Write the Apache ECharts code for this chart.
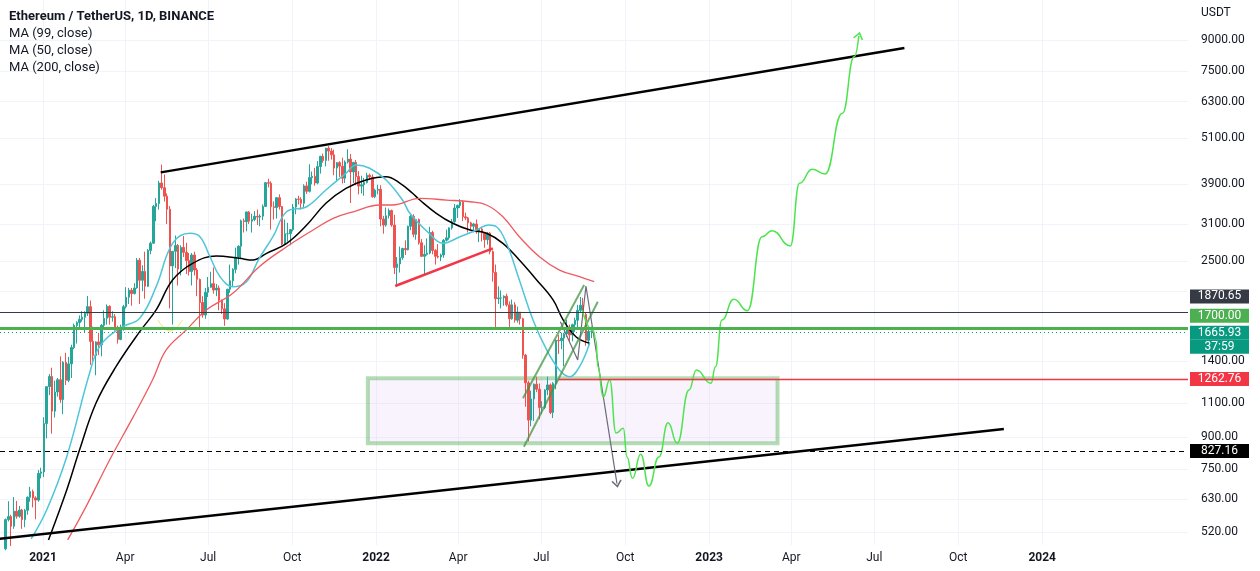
<!DOCTYPE html>
<html><head><meta charset="utf-8">
<script src="https://cdn.jsdelivr.net/npm/echarts@6/dist/echarts.min.js"></script>
<style>html,body{margin:0;padding:0;background:#fff}#c{width:1260px;height:571px}</style>
</head><body><div id="c"></div>
<script>
// ---------- text ----------
const titleLines = ['Ethereum / TetherUS, 1D, BINANCE', 'MA (99, close)', 'MA (50, close)', 'MA (200, close)'];
const currencyLabel = 'USDT';
const monthNames = ['Jan','Feb','Mar','Apr','May','Jun','Jul','Aug','Sep','Oct','Nov','Dec'];
// ---------- axes ----------
const priceTicks = [520, 630, 750, 900, 1100, 1400, 1700, 2100, 2500, 3100, 3900, 5100, 6300, 7500, 9000];
const priceTickLabels = [520, 630, 750, 900, 1100, 1400, 2500, 3100, 3900, 5100, 6300, 7500, 9000];
const timeTicks = ['2021-01-01','2021-04-01','2021-07-01','2021-10-01','2022-01-01','2022-04-01','2022-07-01','2022-10-01','2023-01-01','2023-04-01','2023-07-01','2023-10-01','2024-01-01'];
const timeRange = ['2020-11-14T21:00:00Z', '2024-06-08T19:00:00Z'];
const priceRange = [482.6, 11347];
// ---------- candles: 3-day OHLC [open, close, low, high] from candleStart ----------
const candleStart = '2020-11-20';
const candleStepDays = 3;
const candles = [
[472,559,468,563],[559,569,553,622],[569,538,480,575],[538,587,530,637],[587,570,562,623],[570,591,565,605],[591,559,530,595],[559,590,535,595],[590,636,575,640],[636,658,620,676],[658,634,600,665],[634,626,560,640],[626,731,620,745],[731,737,710,755],
[737,975,715,1011],[975,1208,895,1210],[1208,1281,1150,1300],[1281,1048,920,1348],[1048,1171,1010,1250],[1171,1257,1140,1270],[1257,1121,1100,1440],[1121,1391,1030,1400],[1391,1253,1220,1470],[1253,1378,1240,1435],
[1378,1515,1270,1540],[1515,1722,1500,1740],[1722,1750,1550,1765],[1750,1784,1690,1825],[1784,1806,1760,1870],[1806,1848,1650,1870],[1848,1920,1820,2042],[1920,1570,1370,1990],[1570,1446,1400,1710],[1446,1565,1290,1570],
[1565,1539,1450,1650],[1539,1723,1440,1735],[1723,1795,1700,1880],[1795,1924,1730,1945],[1924,1806,1730,1935],[1806,1811,1760,1870],[1811,1681,1670,1840],[1681,1588,1550,1720],[1588,1687,1580,1730],[1687,1919,1670,1940],
[1919,2028,1900,2150],[2028,2112,1950,2140],[2112,2071,1930,2140],[2071,2139,2060,2200],[2139,2514,2130,2545],[2514,2237,1950,2545],[2237,2355,2100,2440],[2355,2160,2010,2640],[2160,2660,2150,2680],[2660,2773,2600,2800],
[2773,3432,2760,3460],[3432,3490,3150,3600],[3490,3930,3370,3980],[3930,3825,3780,4372],[3825,3641,3530,4130],[3641,3375,3100,3700],[3375,2431,1900,3440],[2431,2645,1730,2650],[2645,2737,2400,2900],[2737,2387,2170,2760],
[2387,2707,2300,2740],[2707,2630,2560,2890],[2630,2508,2320,2780],[2508,2354,2300,2620],[2354,2590,2170,2620],[2590,2374,2300,2640],[2374,2249,2040,2400],[2249,1967,1700,2260],[1967,1829,1800,2040],[1829,2087,1790,2140],
[2087,2148,2030,2280],[2148,2194,2140,2350],[2194,2114,2070,2410],[2114,2138,2040,2190],[2138,1994,1880,2170],[1994,1896,1840,2000],[1896,1787,1718,1960],[1787,2123,1780,2130],[2123,2230,2080,2450],[2230,2383,2160,2400],
[2383,2557,2330,2700],[2557,2725,2450,2740],[2725,3157,2530,3180],[3157,3142,2950,3200],[3142,3323,2970,3330],[3323,3150,3100,3340],[3150,3182,2950,3290],[3182,3241,3150,3340],[3241,3226,3080,3370],[3226,3244,3060,3280],
[3244,3432,3170,3470],[3432,3938,3420,3950],[3938,3925,3830,4030],[3925,3427,3000,3970],[3427,3410,3180,3530],[3410,3610,3200,3620],[3610,3430,3370,3680],[3430,2760,2740,3440],[2760,2929,2740,3180],[2929,2930,2800,3120],
[2930,3000,2740,3010],[3000,3418,2970,3480],[3418,3583,3280,3600],[3583,3575,3470,3650],[3575,3494,3370,3620],[3494,3865,3400,3900],[3865,3746,3690,3960],[3746,4057,3720,4380],[4057,4085,3900,4200],[4085,3930,3870,4290],
[3930,4325,3900,4460],[4325,4587,4150,4600],[4587,4476,4420,4660],[4476,4808,4330,4820],[4808,4730,4470,4868],[4730,4626,4500,4810],[4626,4285,4110,4770],[4285,4422,3960,4440],[4422,4333,4070,4460],[4333,4040,3920,4550],
[4040,4440,3930,4480],[4440,4515,4400,4780],[4515,4190,3500,4650],[4190,4430,3930,4440],[4430,4080,3880,4490],[4080,3860,3680,4210],[3860,3890,3700,4100],[3890,3940,3650,4050],[3940,4110,3920,4170],[4110,4070,4000,4150],[4070,3630,3610,4130],[3630,3770,3600,3800],
[3770,3790,3680,3890],[3790,3190,3060,3880],[3190,3080,2930,3250],[3080,3250,3050,3410],[3250,3350,3200,3390],[3350,3080,3050,3370],[3080,2410,2320,3270],[2410,2460,2160,2560],[2460,2550,2340,2720],[2550,2690,2520,2700],
[2690,2670,2590,2820],[2670,3060,2660,3070],[3060,3240,2990,3270],[3240,2920,2870,3280],[2920,3180,2830,3190],[3180,2780,2750,3200],[2780,2570,2560,2840],[2570,2600,2300,2740],[2600,2620,2580,2850],[2620,2950,2600,3050],
[2950,2660,2600,2980],[2660,2570,2450,2680],[2570,2560,2540,2760],[2560,2590,2500,2610],[2590,2820,2550,2840],[2820,2860,2800,3000],[2860,3030,2830,3040],[3030,3140,3000,3190],[3140,3400,3120,3480],[3400,3450,3210,3470],
[3450,3520,3400,3580],[3520,3230,3150,3550],[3230,3210,3170,3310],[3210,3120,2950,3230],[3120,3060,3000,3140],[3060,3100,2950,3120],[3100,2960,2930,3180],[2960,3010,2790,3020],[3010,2940,2800,3050],[2940,2830,2700,2950],
[2830,2940,2750,2960],[2940,2640,2600,2960],[2640,2340,2220,2660],[2340,2010,1700,2450],[2010,2020,1950,2160],[2020,2020,1900,2110],[2020,2040,1930,2050],[2040,1940,1920,2070],[1940,1790,1700,1980],[1790,1940,1780,2000],
[1940,1775,1750,1970],[1775,1860,1750,1920],[1860,1790,1730,1860],[1790,1450,1420,1800],[1450,1235,1075,1460],[1235,995,880,1250],[995,1125,960,1180],[1125,1225,990,1230],[1225,1190,1170,1280],[1190,1070,1000,1230],
[1070,1070,1030,1110],[1070,1185,1060,1190],[1185,1220,1150,1280],[1220,1040,1030,1230],[1040,1230,1007,1240],[1230,1580,1190,1590],[1580,1575,1460,1630],[1575,1600,1500,1650],[1600,1640,1360,1650],[1640,1695,1610,1780],
[1695,1630,1560,1730],[1630,1730,1570,1740],[1730,1775,1660,1800],[1775,1880,1680,1940],[1880,1935,1860,2030],[1935,1835,1800,2020],[1835,1580,1530,1860],[1580,1665,1520,1680],[1665,1665.93,1600,1710]
];
// ---------- moving averages ----------
const ma99 = [['2021-01-07',497],['2021-01-27',664],['2021-02-10',837],['2021-02-28',1097],['2021-03-22',1356],['2021-04-17',1661],['2021-05-05',1884],['2021-05-23',2241],['2021-06-14',2468],['2021-07-10',2576],['2021-08-04',2541],['2021-08-19',2515],['2021-09-03',2615],['2021-09-25',2771],['2021-10-17',3081],['2021-11-07',3495],['2021-11-29',3812],['2021-12-21',4000],['2022-01-12',4076],['2022-01-27',3930],['2022-02-10',3703],['2022-02-18',3561],['2022-03-08',3298],['2022-03-26',3112],['2022-04-14',2993],['2022-05-02',2937],['2022-05-20',2771],['2022-06-07',2515],['2022-06-26',2241],['2022-07-14',1996],['2022-07-25',1778],['2022-08-08',1613],['2022-08-23',1553]];
const ma50 = [['2020-12-19',500],['2021-01-05',591],['2021-01-27',805],['2021-02-21',1305],['2021-03-04',1523],['2021-03-26',1694],['2021-04-17',1796],['2021-05-05',2156],['2021-05-23',2771],['2021-06-11',2937],['2021-06-22',2879],['2021-07-03',2564],['2021-07-14',2284],['2021-07-28',2156],['2021-08-12',2219],['2021-08-26',2541],['2021-09-10',2879],['2021-09-25',3327],['2021-10-17',3425],['2021-11-07',3775],['2021-11-29',4159],['2021-12-10',4363],['2021-12-25',4281],['2022-01-12',4000],['2022-01-30',3561],['2022-02-07',3298],['2022-02-28',2937],['2022-03-15',2771],['2022-04-03',2879],['2022-04-21',2993],['2022-05-04',3081],['2022-05-13',3050],['2022-05-24',2771],['2022-06-07',2241],['2022-06-22',1778],['2022-07-07',1494],['2022-07-21',1330],['2022-08-01',1279],['2022-08-12',1356],['2022-08-23',1553]];
const ma200 = [['2021-01-28',497],['2021-02-17',602],['2021-03-15',790],['2021-04-10',1015],['2021-05-01',1255],['2021-05-16',1494],['2021-06-07',1678],['2021-06-29',1884],['2021-07-28',2074],['2021-08-26',2420],['2021-09-25',2716],['2021-10-24',2993],['2021-11-15',3203],['2021-12-07',3327],['2022-01-05',3460],['2022-01-19',3460],['2022-02-18',3597],['2022-03-19',3561],['2022-04-14',3526],['2022-05-02',3460],['2022-05-20',3233],['2022-06-07',2879],['2022-06-29',2564],['2022-07-21',2373],['2022-08-12',2284],['2022-08-28',2219]];
// ---------- drawings ----------
const upperTrend = [['2021-05-10',4180],['2023-08-03',8590]];
const lowerTrend = [['2020-11-14',500],['2023-11-20',945]];
const redTrend = [['2022-01-22',2164],['2022-05-09',2692]];
const channelUpper = [['2022-06-11',1129],['2022-08-17',2176]];
const channelLower = [['2022-06-12',853],['2022-09-01',1976]];
const grayPath = [['2022-07-22',1760],['2022-08-10',1410],['2022-08-19',2164],['2022-09-22',689]];
const yellowMark = [['2021-05-07',1778],['2021-05-20',1667],['2021-06-03',1778]];
const projection = [['2022-08-15',1880],['2022-08-27',1667],['2022-08-30',1583],['2022-09-01',1356],['2022-09-07',1138],['2022-09-14',1255],['2022-09-21',923],['2022-09-29',949],['2022-10-03',804],['2022-10-09',710],['2022-10-18',817],['2022-10-27',679],['2022-11-07',804],['2022-11-17',980],['2022-11-27',870],['2022-12-10',1185],['2022-12-18',1330],['2023-01-03',1231],['2023-01-08',1355],['2023-01-15',1778],['2023-01-28',2003],['2023-02-12',1876],['2023-02-28',2879],['2023-03-11',2981],['2023-03-31',2729],['2023-04-10',3924],['2023-04-24',4255],['2023-05-08',4141],['2023-05-27',5886],['2023-06-09',8170],['2023-06-14',9210]];
const zoneBox = [['2021-12-23',1268],['2023-03-17',870]];
// ---------- price levels ----------
const levelValues = [1870.65, 1700.00, 1665.93, 1262.76, 827.16];
const levelTexts = [['1870.65'], ['1700.00'], ['1665.93','37:59'], ['1262.76'], ['827.16']];
const redLevelStart = '2022-07-20';

// ================= build =================
const L = v => Math.log10(v);
const T = s => Date.parse(s.length === 10 ? s + 'T00:00:00Z' : s);
const DAY = 86400000;
const t0 = T(candleStart);
const candleData = candles.map((c, i) => [t0 + (i * candleStepDays + 1) * DAY, L(c[0]), L(c[1]), L(c[2]), L(c[3])]);
const pts = a => a.map(p => [T(p[0]), L(p[1])]);
const FONT = 'Roboto';

function lineSeries(points, color, width, extra) {
  return Object.assign({
    type: 'line', data: pts(points), showSymbol: true, symbol: 'none',
    lineStyle: { color: color, width: width }, itemStyle: { color: color },
    silent: true, z: 4, animation: false, clip: true
  }, extra || {});
}
function withArrow(series, color, rot) {
  const d = series.data;
  const last = d[d.length - 1];
  d[d.length - 1] = {
    value: last, symbol: 'path://M0,10L6,0L12,10', symbolSize: [9, 6], symbolRotate: rot,
    itemStyle: { color: 'rgba(0,0,0,0)', borderColor: color, borderWidth: 1.4 }
  };
  return series;
}
function tag(textLines, bg, spacerAbove, spacerBelow) {
  let s = '';
  if (spacerAbove) s += '{g| }\n';
  s += textLines.map(t => '{t|' + t + '}').join('\n');
  if (spacerBelow) s += '\n{g| }';
  const sp = spacerAbove || spacerBelow || 1;
  return {
    show: true, position: 'end', distance: 2, formatter: s,
    rich: {
      t: { backgroundColor: bg, color: '#ffffff', fontFamily: FONT, fontSize: 12, width: 59, height: 14, lineHeight: 14, align: 'center' },
      g: { fontSize: 1, lineHeight: sp, height: sp }
    }
  };
}

const tickTs = timeTicks.map(T);
const xMax = T(timeRange[1]);
const redStyle = { color: '#f23645', width: 1.3, type: 'solid', opacity: 1 };

const levelLines = [
  { yAxis: L(levelValues[0]), lineStyle: { color: '#363a45', width: 1, type: 'solid' }, label: tag(levelTexts[0], '#363a45', 0, 31) },
  { yAxis: L(levelValues[1]), lineStyle: { color: '#4caf50', width: 3, type: 'solid' }, label: tag(levelTexts[1], '#4caf50', 0, 24) },
  { yAxis: L(levelValues[2]), lineStyle: { color: '#089981', width: 1, type: [1, 3] }, label: tag(levelTexts[2], '#089981', 16, 0) },
  [ { coord: [T(redLevelStart), L(levelValues[3])], lineStyle: redStyle, label: tag(levelTexts[3], '#f23645', 0, 0) },
    { coord: [xMax, L(levelValues[3])], lineStyle: redStyle, label: tag(levelTexts[3], '#f23645', 0, 0) } ],
  { yAxis: L(levelValues[4]), lineStyle: { color: '#000000', width: 1, type: [5, 4] }, label: tag(levelTexts[4], '#000000', 0, 0) }
];

const option = {
  animation: false,
  backgroundColor: '#ffffff',
  title: {
    left: 9, top: 8, padding: 0,
    text: '{b|' + titleLines[0] + '}\n' + titleLines.slice(1).map(s => '{n|' + s + '}').join('\n'),
    textStyle: { fontWeight: 'normal', rich: {
      b: { fontFamily: FONT, fontWeight: 'bold', fontSize: 13, color: '#131722', lineHeight: 17 },
      n: { fontFamily: FONT, fontWeight: 'normal', fontSize: 13, color: '#131722', lineHeight: 17 }
    } }
  },
  graphic: [{ type: 'text', left: 1201, top: 7, style: { text: currencyLabel, font: '12px ' + FONT, fill: '#131722' } }],
  grid: { left: 0, right: 72, top: 0, bottom: 26 },
  xAxis: {
    type: 'value', min: T(timeRange[0]), max: xMax,
    axisLine: { show: false }, axisTick: { show: false, customValues: tickTs },
    splitLine: { show: true, lineStyle: { color: '#f0f3fa', width: 1 } },
    axisLabel: {
      customValues: tickTs, margin: 7, color: '#131722', fontSize: 12, fontFamily: FONT,
      formatter: function (v) {
        const d = new Date(v); const m = d.getUTCMonth();
        return m === 0 ? '{y|' + d.getUTCFullYear() + '}' : monthNames[m];
      },
      rich: { y: { fontWeight: 'bold', color: '#131722', fontSize: 12, fontFamily: FONT } }
    }
  },
  yAxis: {
    type: 'value', position: 'right', min: L(priceRange[0]), max: L(priceRange[1]),
    axisLine: { show: false }, axisTick: { show: false, customValues: priceTicks.map(L) },
    splitLine: { show: true, lineStyle: { color: '#f0f3fa', width: 1 } },
    axisLabel: {
      customValues: priceTickLabels.map(L), margin: 13, color: '#131722', fontSize: 12, fontFamily: FONT,
      formatter: v => Math.pow(10, v).toFixed(2)
    }
  },
  series: [
    {
      type: 'candlestick', data: candleData, barWidth: 2, z: 2, silent: true,
      itemStyle: { color: '#26a69a', color0: '#ef5350', borderColor: '#26a69a', borderColor0: '#ef5350', borderWidth: 1 },
      markArea: {
        silent: true,
        itemStyle: { color: 'rgba(225,200,240,0.22)', borderColor: 'rgba(76,175,80,0.42)', borderWidth: 4 },
        data: [[{ coord: [T(zoneBox[0][0]), L(zoneBox[0][1])] }, { coord: [T(zoneBox[1][0]), L(zoneBox[1][1])] }]]
      },
      markLine: { silent: true, symbol: ['none', 'none'], animation: false, data: levelLines }
    },
    lineSeries(ma99, '#000000', 1.5, { smooth: 0.4 }),
    lineSeries(ma50, '#4fc6d8', 1.5, { smooth: 0.4 }),
    lineSeries(ma200, '#ef5a5f', 1.3, { smooth: 0.4 }),
    lineSeries(upperTrend, '#000000', 2.5),
    lineSeries(lowerTrend, '#000000', 2.5),
    lineSeries(redTrend, '#f23645', 2.5),
    lineSeries(channelUpper, 'rgba(67,150,67,0.75)', 2),
    lineSeries(channelLower, 'rgba(67,150,67,0.75)', 2),
    lineSeries(yellowMark, '#f2e36a', 1, { smooth: 0.5 }),
    withArrow(lineSeries(grayPath, '#6a6d78', 1.2), '#6a6d78', 189),
    withArrow(lineSeries(projection, '#4ee44e', 1.5, { smooth: 0.5, smoothMonotone: 'x' }), '#4ee44e', -14)
  ]
};
const chart = echarts.init(document.getElementById('c'), null, { renderer: 'canvas' });
chart.setOption(option);
</script></body></html>
